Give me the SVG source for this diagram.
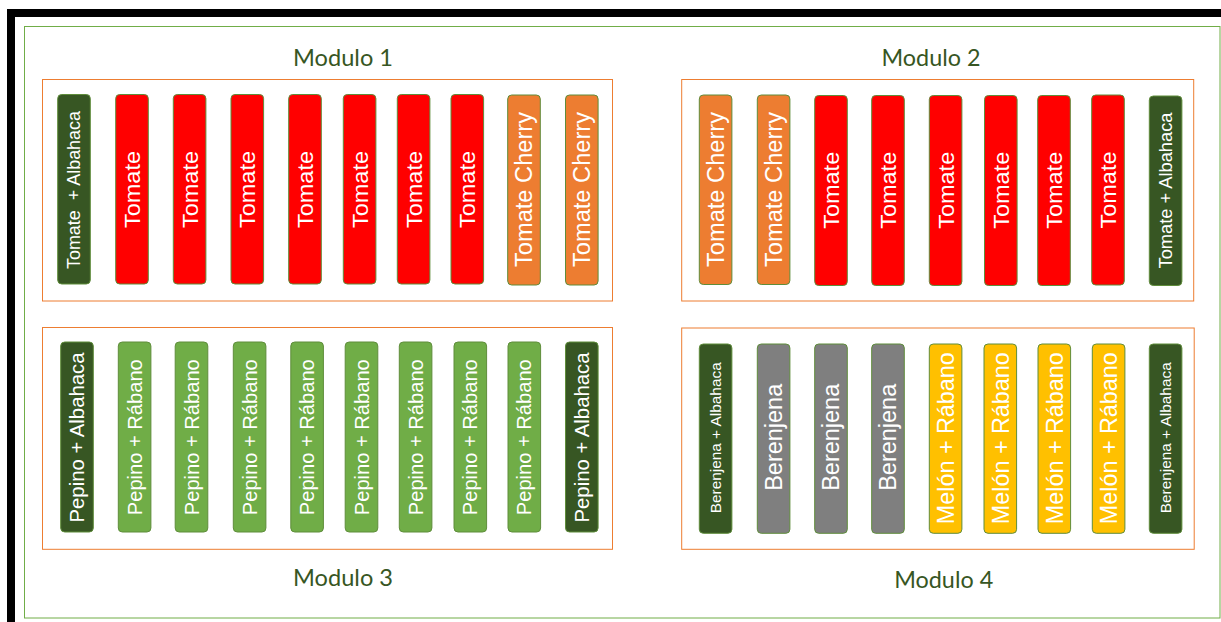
<svg xmlns="http://www.w3.org/2000/svg" width="1221" height="622" viewBox="0 0 1221 622">
<style>
.frame{fill:none;stroke:#000;stroke-width:8}
.outer{fill:none;stroke:#70ad47;stroke-width:1}
.mod{fill:none;stroke:#ed7d31;stroke-width:1}
.title{font-family:Lato,"Liberation Sans",sans-serif;font-size:24px;fill:#375623;text-anchor:middle}
.bar{stroke:#5f8d3b;stroke-width:1}
.dg{fill:#375623}.rd{fill:#ff0000}.or{fill:#ed7d31}.lg{fill:#70ad47}.gy{fill:#7f7f7f}.yl{fill:#ffc000}
.lbl{font-family:"Liberation Sans",Arial,sans-serif;fill:#fff;text-anchor:middle}
</style>
<rect class="frame" x="11" y="13" width="1300" height="700"/>
<rect class="outer" x="24.5" y="26.5" width="1195.5" height="591.5"/>

<g id="modulo1">
<rect class="mod" x="42.5" y="79.5" width="570" height="221.5"/>
<text class="title" x="343" y="65.5" textLength="100" lengthAdjust="spacingAndGlyphs">Modulo 1</text>
<g id="m1b1"><rect class="bar dg" x="57.7" y="94.5" width="32.6" height="189.5" rx="4"/><text class="lbl" xml:space="preserve" font-size="17.5" dy="0.35em" textLength="158" lengthAdjust="spacingAndGlyphs" transform="translate(74,190) rotate(-90)">Tomate  + Albahaca</text></g>
<g id="m1b2"><rect class="bar rd" x="115.7" y="94.5" width="32.6" height="189.5" rx="4"/><text class="lbl" font-size="22.7" dy="0.35em" textLength="77" lengthAdjust="spacingAndGlyphs" transform="translate(132,189.5) rotate(-90)">Tomate</text></g>
<g id="m1b3"><rect class="bar rd" x="173.3" y="94.5" width="32.6" height="189.5" rx="4"/><text class="lbl" font-size="22.7" dy="0.35em" textLength="77" lengthAdjust="spacingAndGlyphs" transform="translate(189.6,189.5) rotate(-90)">Tomate</text></g>
<g id="m1b4"><rect class="bar rd" x="231" y="94.5" width="32.6" height="189.5" rx="4"/><text class="lbl" font-size="22.7" dy="0.35em" textLength="77" lengthAdjust="spacingAndGlyphs" transform="translate(247.3,189.5) rotate(-90)">Tomate</text></g>
<g id="m1b5"><rect class="bar rd" x="288.7" y="94.5" width="32.6" height="189.5" rx="4"/><text class="lbl" font-size="22.7" dy="0.35em" textLength="77" lengthAdjust="spacingAndGlyphs" transform="translate(305,189.5) rotate(-90)">Tomate</text></g>
<g id="m1b6"><rect class="bar rd" x="343.3" y="94.5" width="32.6" height="189.5" rx="4"/><text class="lbl" font-size="22.7" dy="0.35em" textLength="77" lengthAdjust="spacingAndGlyphs" transform="translate(359.6,189.5) rotate(-90)">Tomate</text></g>
<g id="m1b7"><rect class="bar rd" x="397.3" y="94.5" width="32.6" height="189.5" rx="4"/><text class="lbl" font-size="22.7" dy="0.35em" textLength="77" lengthAdjust="spacingAndGlyphs" transform="translate(413.6,189.5) rotate(-90)">Tomate</text></g>
<g id="m1b8"><rect class="bar rd" x="451" y="94.5" width="32.6" height="189.5" rx="4"/><text class="lbl" font-size="22.7" dy="0.35em" textLength="77" lengthAdjust="spacingAndGlyphs" transform="translate(467.3,189.5) rotate(-90)">Tomate</text></g>
<g id="m1b9"><rect class="bar or" x="507.7" y="95" width="32.6" height="190" rx="4"/><text class="lbl" font-size="23" dy="0.35em" textLength="155" lengthAdjust="spacingAndGlyphs" transform="translate(524,189.5) rotate(-90)">Tomate Cherry</text></g>
<g id="m1b10"><rect class="bar or" x="565.5" y="95" width="32.6" height="190" rx="4"/><text class="lbl" font-size="23" dy="0.35em" textLength="155" lengthAdjust="spacingAndGlyphs" transform="translate(581.8,189.5) rotate(-90)">Tomate Cherry</text></g>
</g>

<g id="modulo2">
<rect class="mod" x="681.7" y="79.5" width="512" height="221.5"/>
<text class="title" x="931" y="65.5" textLength="99" lengthAdjust="spacingAndGlyphs">Modulo 2</text>
<g id="m2b1"><rect class="bar or" x="699.3" y="95" width="32.6" height="189.5" rx="4"/><text class="lbl" font-size="23" dy="0.35em" textLength="155" lengthAdjust="spacingAndGlyphs" transform="translate(715.6,189.5) rotate(-90)">Tomate Cherry</text></g>
<g id="m2b2"><rect class="bar or" x="757.3" y="95" width="32.6" height="189.5" rx="4"/><text class="lbl" font-size="23" dy="0.35em" textLength="155" lengthAdjust="spacingAndGlyphs" transform="translate(773.6,189.5) rotate(-90)">Tomate Cherry</text></g>
<g id="m2b3"><rect class="bar rd" x="814.7" y="95.5" width="32.6" height="190" rx="4"/><text class="lbl" font-size="22.7" dy="0.35em" textLength="77" lengthAdjust="spacingAndGlyphs" transform="translate(831,190.3) rotate(-90)">Tomate</text></g>
<g id="m2b4"><rect class="bar rd" x="871.7" y="95.5" width="32.6" height="190" rx="4"/><text class="lbl" font-size="22.7" dy="0.35em" textLength="77" lengthAdjust="spacingAndGlyphs" transform="translate(888,190.3) rotate(-90)">Tomate</text></g>
<g id="m2b5"><rect class="bar rd" x="929.3" y="95.5" width="32.6" height="190" rx="4"/><text class="lbl" font-size="22.7" dy="0.35em" textLength="77" lengthAdjust="spacingAndGlyphs" transform="translate(945.6,190.3) rotate(-90)">Tomate</text></g>
<g id="m2b6"><rect class="bar rd" x="984.5" y="95.5" width="32.6" height="190" rx="4"/><text class="lbl" font-size="22.7" dy="0.35em" textLength="77" lengthAdjust="spacingAndGlyphs" transform="translate(1000.8,190.3) rotate(-90)">Tomate</text></g>
<g id="m2b7"><rect class="bar rd" x="1037.7" y="95.5" width="32.6" height="190" rx="4"/><text class="lbl" font-size="22.7" dy="0.35em" textLength="77" lengthAdjust="spacingAndGlyphs" transform="translate(1054,190.3) rotate(-90)">Tomate</text></g>
<g id="m2b8"><rect class="bar rd" x="1091.7" y="95" width="32.6" height="190" rx="4"/><text class="lbl" font-size="22.7" dy="0.35em" textLength="77" lengthAdjust="spacingAndGlyphs" transform="translate(1108,190) rotate(-90)">Tomate</text></g>
<g id="m2b9"><rect class="bar dg" x="1149.3" y="96" width="32.6" height="189.5" rx="4"/><text class="lbl" font-size="17.5" dy="0.35em" textLength="156" lengthAdjust="spacingAndGlyphs" transform="translate(1165.6,190.5) rotate(-90)">Tomate + Albahaca</text></g>
</g>

<g id="modulo3">
<rect class="mod" x="42.5" y="327.5" width="570" height="221.8"/>
<text class="title" x="343" y="586" textLength="100" lengthAdjust="spacingAndGlyphs">Modulo 3</text>
<g id="m3b1"><rect class="bar dg" x="60.7" y="342" width="32.6" height="190" rx="4"/><text class="lbl" font-size="20.2" dy="0.35em" textLength="170" lengthAdjust="spacingAndGlyphs" transform="translate(77,437.5) rotate(-90)">Pepino + Albahaca</text></g>
<g id="m3b2"><rect class="bar lg" x="118.3" y="342" width="32.6" height="190" rx="4"/><text class="lbl" font-size="20.1" dy="0.35em" textLength="156" lengthAdjust="spacingAndGlyphs" transform="translate(134.6,437.2) rotate(-90)">Pepino + Rábano</text></g>
<g id="m3b3"><rect class="bar lg" x="175.2" y="342" width="32.6" height="190" rx="4"/><text class="lbl" font-size="20.1" dy="0.35em" textLength="156" lengthAdjust="spacingAndGlyphs" transform="translate(191.5,437.2) rotate(-90)">Pepino + Rábano</text></g>
<g id="m3b4"><rect class="bar lg" x="233.3" y="342" width="32.6" height="190" rx="4"/><text class="lbl" font-size="20.1" dy="0.35em" textLength="156" lengthAdjust="spacingAndGlyphs" transform="translate(249.6,437.2) rotate(-90)">Pepino + Rábano</text></g>
<g id="m3b5"><rect class="bar lg" x="290.8" y="342" width="32.6" height="190" rx="4"/><text class="lbl" font-size="20.1" dy="0.35em" textLength="156" lengthAdjust="spacingAndGlyphs" transform="translate(307.1,437.2) rotate(-90)">Pepino + Rábano</text></g>
<g id="m3b6"><rect class="bar lg" x="345.2" y="342" width="32.6" height="190" rx="4"/><text class="lbl" font-size="20.1" dy="0.35em" textLength="156" lengthAdjust="spacingAndGlyphs" transform="translate(361.5,437.2) rotate(-90)">Pepino + Rábano</text></g>
<g id="m3b7"><rect class="bar lg" x="399.3" y="342" width="32.6" height="190" rx="4"/><text class="lbl" font-size="20.1" dy="0.35em" textLength="156" lengthAdjust="spacingAndGlyphs" transform="translate(415.6,437.2) rotate(-90)">Pepino + Rábano</text></g>
<g id="m3b8"><rect class="bar lg" x="454" y="342" width="32.6" height="190" rx="4"/><text class="lbl" font-size="20.1" dy="0.35em" textLength="156" lengthAdjust="spacingAndGlyphs" transform="translate(470.3,437.2) rotate(-90)">Pepino + Rábano</text></g>
<g id="m3b9"><rect class="bar lg" x="508" y="342" width="32.6" height="190" rx="4"/><text class="lbl" font-size="20.1" dy="0.35em" textLength="156" lengthAdjust="spacingAndGlyphs" transform="translate(524.3,437.2) rotate(-90)">Pepino + Rábano</text></g>
<g id="m3b10"><rect class="bar dg" x="565.5" y="342" width="32.6" height="190" rx="4"/><text class="lbl" font-size="20.2" dy="0.35em" textLength="170" lengthAdjust="spacingAndGlyphs" transform="translate(581.8,437.5) rotate(-90)">Pepino + Albahaca</text></g>
</g>

<g id="modulo4">
<rect class="mod" x="681.7" y="328" width="512.5" height="221.3"/>
<text class="title" x="943.7" y="587.5" textLength="99" lengthAdjust="spacingAndGlyphs">Modulo 4</text>
<g id="m4b1"><rect class="bar dg" x="699.3" y="344" width="32.6" height="189.3" rx="4"/><text class="lbl" font-size="15.3" dy="0.35em" textLength="151" lengthAdjust="spacingAndGlyphs" transform="translate(715.6,437.8) rotate(-90)">Berenjena + Albahaca</text></g>
<g id="m4b2"><rect class="bar gy" x="757.3" y="344" width="32.6" height="189.3" rx="4"/><text class="lbl" font-size="23.5" dy="0.35em" textLength="107" lengthAdjust="spacingAndGlyphs" transform="translate(773.6,437.3) rotate(-90)">Berenjena</text></g>
<g id="m4b3"><rect class="bar gy" x="814.7" y="344" width="32.6" height="189.3" rx="4"/><text class="lbl" font-size="23.5" dy="0.35em" textLength="107" lengthAdjust="spacingAndGlyphs" transform="translate(831,437.3) rotate(-90)">Berenjena</text></g>
<g id="m4b4"><rect class="bar gy" x="871.7" y="344" width="32.6" height="189.3" rx="4"/><text class="lbl" font-size="23.5" dy="0.35em" textLength="107" lengthAdjust="spacingAndGlyphs" transform="translate(888,437.3) rotate(-90)">Berenjena</text></g>
<g id="m4b5"><rect class="bar yl" x="929.3" y="344" width="32.6" height="189.3" rx="4"/><text class="lbl" font-size="23.4" dy="0.35em" textLength="172" lengthAdjust="spacingAndGlyphs" transform="translate(945.6,438.2) rotate(-90)">Melón + Rábano</text></g>
<g id="m4b6"><rect class="bar yl" x="984" y="344" width="32.6" height="189.3" rx="4"/><text class="lbl" font-size="23.4" dy="0.35em" textLength="172" lengthAdjust="spacingAndGlyphs" transform="translate(1000.3,438.2) rotate(-90)">Melón + Rábano</text></g>
<g id="m4b7"><rect class="bar yl" x="1038" y="344" width="32.6" height="189.3" rx="4"/><text class="lbl" font-size="23.4" dy="0.35em" textLength="172" lengthAdjust="spacingAndGlyphs" transform="translate(1054.3,438.2) rotate(-90)">Melón + Rábano</text></g>
<g id="m4b8"><rect class="bar yl" x="1092.3" y="344" width="32.6" height="189.3" rx="4"/><text class="lbl" font-size="23.4" dy="0.35em" textLength="172" lengthAdjust="spacingAndGlyphs" transform="translate(1108.6,438.2) rotate(-90)">Melón + Rábano</text></g>
<g id="m4b9"><rect class="bar dg" x="1149.3" y="344" width="32.6" height="189.3" rx="4"/><text class="lbl" font-size="15.3" dy="0.35em" textLength="151" lengthAdjust="spacingAndGlyphs" transform="translate(1165.6,437.8) rotate(-90)">Berenjena + Albahaca</text></g>
</g>

<g id="connectors"></g>
</svg>
